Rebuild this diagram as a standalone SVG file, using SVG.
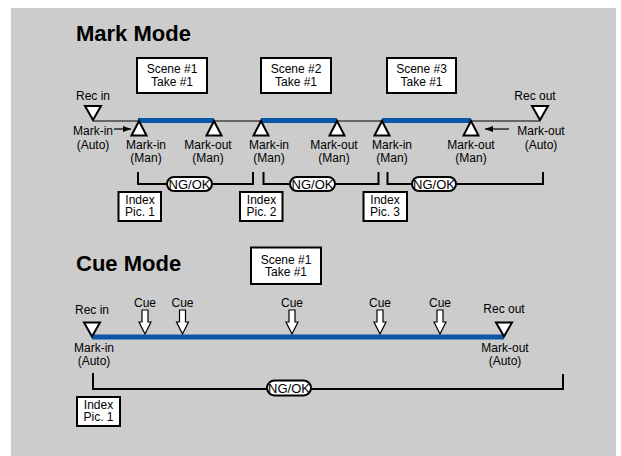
<svg xmlns="http://www.w3.org/2000/svg" width="621" height="456" viewBox="0 0 621 456">
<style>
text{font-family:"Liberation Sans",Arial,sans-serif;font-size:12px;fill:#000;text-anchor:middle}
.title{font-size:22px;font-weight:bold;text-anchor:start}
.box{fill:#fff;stroke:#000;stroke-width:2}
.tri{fill:#fff;stroke:#000;stroke-width:2;stroke-linejoin:miter}
.line{stroke:#000;stroke-width:1.2;fill:none}
.blue{stroke:#0a56a8;stroke-width:5;fill:none}
.brk{stroke:#000;stroke-width:2;fill:none}
.pill{fill:#fff;stroke:#000;stroke-width:2}
.ng{font-size:13px}
.cue{fill:#fff;stroke:#000;stroke-width:1.2}
</style>
<defs>
<path id="up" d="M0,0 L7.5,14.5 L-7.5,14.5 Z"/>
<path id="down" d="M0,0 L-8,-14 L8,-14 Z"/>
<path id="cuearr" d="M-3,0 H3 V12 H6 L0,24 L-6,12 H-3 Z"/>
<marker id="ah" markerWidth="8" markerHeight="6" refX="8" refY="3" orient="auto" markerUnits="userSpaceOnUse">
<path d="M0,0 L8,3 L0,6 Z" fill="#000"/>
</marker>
</defs>
<rect x="11" y="8" width="605" height="448" fill="#cccccc"/>

<text class="title" x="76" y="41">Mark Mode</text>
<text class="title" x="76" y="271">Cue Mode</text>

<g id="connectors">
<line class="line" x1="93" y1="121" x2="540" y2="121"/>
<line class="blue" x1="138" y1="120.5" x2="214" y2="120.5"/>
<line class="blue" x1="261" y1="120.5" x2="337" y2="120.5"/>
<line class="blue" x1="382" y1="120.5" x2="471" y2="120.5"/>
<line class="line" x1="114" y1="129" x2="131" y2="129" marker-end="url(#ah)"/>
<line class="line" x1="509" y1="129" x2="485" y2="129" marker-end="url(#ah)"/>
<path class="brk" d="M138,172 V184 H253 V172"/>
<path class="brk" d="M263.5,172 V184 H378.5 V172"/>
<path class="brk" d="M387.5,172 V184 H543 V172"/>
<line class="blue" x1="92" y1="337" x2="504" y2="337" stroke-width="5.5"/>
<path class="brk" d="M93,373 V389 H563 V374"/>
</g>

<g id="mark-scene1"><rect class="box" x="137" y="58" width="70" height="35"/><text x="172" y="73">Scene #1</text><text x="172" y="86">Take #1</text></g>
<g id="mark-scene2"><rect class="box" x="261" y="58" width="70" height="35"/><text x="296" y="73">Scene #2</text><text x="296" y="86">Take #1</text></g>
<g id="mark-scene3"><rect class="box" x="387" y="58" width="69" height="35"/><text x="421.5" y="73">Scene #3</text><text x="421.5" y="86">Take #1</text></g>

<g id="mark-recin"><use href="#down" class="tri" x="93" y="120"/><text x="93" y="100">Rec in</text><text x="93" y="135">Mark-in</text><text x="93" y="149">(Auto)</text></g>
<g id="mark-recout"><use href="#down" class="tri" x="540" y="120"/><text x="535" y="100">Rec out</text><text x="541" y="135">Mark-out</text><text x="541" y="149">(Auto)</text></g>

<g id="markin1"><use href="#up" class="tri" x="139" y="121"/><text x="146" y="149">Mark-in</text><text x="146" y="162">(Man)</text></g>
<g id="markout1"><use href="#up" class="tri" x="214" y="121"/><text x="208" y="149">Mark-out</text><text x="208" y="162">(Man)</text></g>
<g id="markin2"><use href="#up" class="tri" x="261" y="121"/><text x="269" y="149">Mark-in</text><text x="269" y="162">(Man)</text></g>
<g id="markout2"><use href="#up" class="tri" x="337" y="121"/><text x="334" y="149">Mark-out</text><text x="334" y="162">(Man)</text></g>
<g id="markin3"><use href="#up" class="tri" x="382" y="121"/><text x="392" y="149">Mark-in</text><text x="392" y="162">(Man)</text></g>
<g id="markout3"><use href="#up" class="tri" x="471" y="121"/><text x="471" y="149">Mark-out</text><text x="471" y="162">(Man)</text></g>

<g id="ngok1"><rect class="pill" x="167" y="177" width="45" height="14" rx="7"/><text class="ng" x="189.5" y="188.5">NG/OK</text></g>
<g id="ngok2"><rect class="pill" x="290" y="177" width="45" height="14" rx="7"/><text class="ng" x="312.5" y="188.5">NG/OK</text></g>
<g id="ngok3"><rect class="pill" x="412" y="177" width="44" height="14" rx="7"/><text class="ng" x="434" y="188.5">NG/OK</text></g>

<g id="index1"><rect class="box" x="118.5" y="192" width="42.5" height="29"/><text x="140" y="203.5">Index</text><text x="140" y="216">Pic. 1</text></g>
<g id="index2"><rect class="box" x="240" y="192" width="42.5" height="29"/><text x="261.5" y="203.5">Index</text><text x="261.5" y="216">Pic. 2</text></g>
<g id="index3"><rect class="box" x="363.5" y="192" width="43.5" height="29"/><text x="385" y="203.5">Index</text><text x="385" y="216">Pic. 3</text></g>

<g id="cue-scene1"><rect class="box" x="251" y="247.5" width="70" height="36.5"/><text x="286" y="263.5">Scene #1</text><text x="286" y="276">Take #1</text></g>

<g id="cue-recin"><use href="#down" class="tri" x="92" y="336.5"/><text x="92" y="313.5">Rec in</text><text x="94" y="352">Mark-in</text><text x="94" y="364.5">(Auto)</text></g>
<g id="cue-recout"><use href="#down" class="tri" x="504" y="336.5"/><text x="504" y="313">Rec out</text><text x="505" y="352">Mark-out</text><text x="505" y="364.5">(Auto)</text></g>

<g id="cue1"><use href="#cuearr" class="cue" x="145" y="310"/><text x="145" y="306.5">Cue</text></g>
<g id="cue2"><use href="#cuearr" class="cue" x="182.5" y="310"/><text x="182.5" y="306.5">Cue</text></g>
<g id="cue3"><use href="#cuearr" class="cue" x="292" y="310"/><text x="292" y="306.5">Cue</text></g>
<g id="cue4"><use href="#cuearr" class="cue" x="380" y="310"/><text x="380" y="306.5">Cue</text></g>
<g id="cue5"><use href="#cuearr" class="cue" x="440" y="310"/><text x="440" y="306.5">Cue</text></g>

<g id="cue-ngok"><rect class="pill" x="267" y="380.5" width="44" height="15" rx="7.5"/><text class="ng" x="289" y="392.5">NG/OK</text></g>
<g id="cue-index1"><rect class="box" x="77" y="397" width="43" height="29"/><text x="98.5" y="408.5">Index</text><text x="98.5" y="421">Pic. 1</text></g>
</svg>
